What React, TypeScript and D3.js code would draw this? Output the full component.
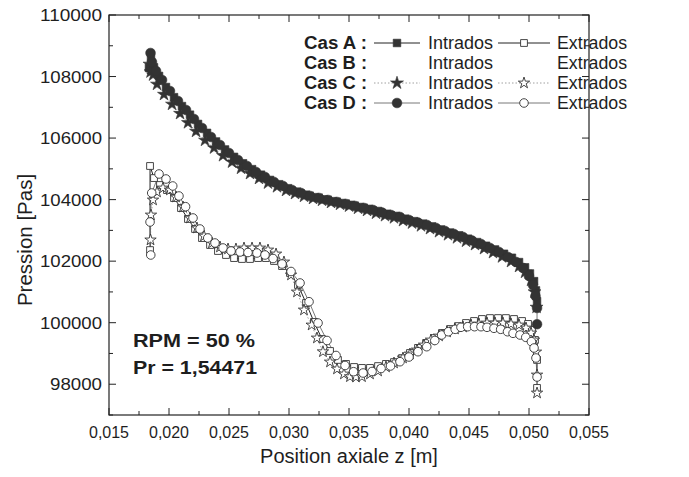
import React from 'react';
import * as d3 from 'd3';

const W = 689, H = 477;
const FONT = '"Liberation Sans", Arial, Helvetica, sans-serif';

const xTicks = [0.015, 0.02, 0.025, 0.03, 0.035, 0.04, 0.045, 0.05, 0.055];
const yTicks = [98000, 100000, 102000, 104000, 106000, 108000, 110000];

// Cas A - Intrados (filled squares)
const intraA_x = [0.01833,0.01850,0.01875,0.01917,0.01975,0.02042,0.02108,0.02175,0.02242,0.02317,0.02392,0.02467,0.02542,0.02617,0.02692,0.02767,0.02842,0.02917,0.02992,0.03067,0.03142,0.03217,0.03292,0.03367,0.03442,0.03517,0.03592,0.03667,0.03742,0.03817,0.03892,0.03967,0.04042,0.04117,0.04192,0.04267,0.04342,0.04417,0.04492,0.04567,0.04642,0.04717,0.04792,0.04858,0.04917,0.04967,0.05008,0.05042,0.05058,0.05067];
const intraA_p = [108280,108600,108300,108020,107660,107330,107040,106760,106460,106170,105890,105630,105390,105180,104990,104810,104640,104500,104370,104260,104160,104080,104010,103950,103890,103830,103760,103700,103630,103540,103470,103380,103300,103220,103130,103030,102930,102840,102730,102620,102500,102380,102240,102110,101970,101800,101600,101350,101050,100700];

// Cas A - Extrados (open squares)
const extraA_x = [0.01842,0.01842,0.01875,0.01925,0.01983,0.02042,0.02100,0.02158,0.02217,0.02275,0.02342,0.02408,0.02475,0.02542,0.02608,0.02675,0.02742,0.02808,0.02875,0.02942,0.03008,0.03075,0.03142,0.03208,0.03275,0.03342,0.03408,0.03475,0.03542,0.03608,0.03675,0.03742,0.03808,0.03875,0.03942,0.04008,0.04075,0.04142,0.04208,0.04275,0.04342,0.04408,0.04475,0.04542,0.04608,0.04675,0.04742,0.04808,0.04875,0.04942,0.04992,0.05025,0.05050,0.05067,0.05067];
const extraA_p = [102360,105093,104700,104475,104310,104050,103725,103370,103045,102750,102525,102330,102200,102100,102070,102070,102100,102100,102005,101840,101615,101225,100640,100025,99470,99080,98790,98660,98560,98530,98530,98590,98660,98720,98850,99015,99180,99340,99500,99665,99795,99890,99990,100055,100120,100150,100150,100150,100120,100055,99960,99765,99440,98790,97880];

// Cas C - Intrados (filled stars)
const intraC_x = [0.01838,0.01846,0.01867,0.01900,0.01958,0.02025,0.02092,0.02158,0.02225,0.02300,0.02375,0.02450,0.02525,0.02600,0.02675,0.02750,0.02825,0.02900,0.02975,0.03050,0.03125,0.03200,0.03275,0.03350,0.03425,0.03500,0.03575,0.03650,0.03725,0.03800,0.03875,0.03950,0.04025,0.04100,0.04175,0.04250,0.04325,0.04400,0.04475,0.04550,0.04625,0.04700,0.04775,0.04850,0.04917,0.04967,0.05017,0.05046,0.05063];
const intraC_p = [108400,108150,108050,107750,107420,107100,106800,106500,106220,105930,105680,105430,105220,105020,104850,104690,104540,104420,104300,104200,104110,104040,103980,103910,103850,103790,103720,103650,103560,103480,103410,103320,103240,103150,103060,102960,102860,102760,102650,102540,102410,102280,102140,101990,101830,101640,101380,101000,100500];

// Cas C - Extrados (open stars)
const extraC_x = [0.01846,0.01850,0.01867,0.01900,0.01950,0.02008,0.02058,0.02117,0.02175,0.02233,0.02292,0.02358,0.02425,0.02492,0.02558,0.02625,0.02692,0.02758,0.02825,0.02892,0.02958,0.03017,0.03067,0.03125,0.03189,0.03233,0.03283,0.03342,0.03400,0.03458,0.03508,0.03558,0.03608,0.03675,0.03742,0.03808,0.03875,0.03950,0.04008,0.04067,0.04125,0.04183,0.04250,0.04317,0.04383,0.04450,0.04517,0.04583,0.04650,0.04717,0.04783,0.04850,0.04917,0.04975,0.05017,0.05042,0.05058,0.05067,0.05067];
const extraC_p = [102690,103500,103988,104248,104378,104313,104085,103760,103403,103078,102818,102590,102460,102395,102395,102428,102428,102428,102363,102233,101973,101550,100998,100413,99925,99503,99057,98723,98495,98333,98245,98235,98245,98333,98430,98560,98690,98853,98983,99113,99275,99438,99568,99698,99795,99860,99925,99958,99990,99990,99990,99958,99925,99828,99665,99438,99048,98300,97715];

// Cas D - Intrados (filled circles)
const intraD_x = [0.01846,0.01858,0.01892,0.01942,0.02008,0.02075,0.02142,0.02208,0.02275,0.02350,0.02425,0.02500,0.02575,0.02650,0.02725,0.02800,0.02875,0.02950,0.03025,0.03100,0.03175,0.03250,0.03325,0.03400,0.03475,0.03550,0.03625,0.03700,0.03775,0.03850,0.03925,0.04000,0.04075,0.04150,0.04225,0.04300,0.04375,0.04450,0.04525,0.04600,0.04675,0.04750,0.04825,0.04892,0.04950,0.05000,0.05033,0.05054,0.05067,0.05067];
const intraD_p = [108765,108473,108180,107888,107530,107205,106913,106620,106328,106035,105775,105515,105288,105093,104898,104735,104573,104443,104313,104215,104118,104053,103988,103923,103858,103793,103728,103663,103581,103500,103435,103338,103256,103175,103078,102980,102883,102785,102671,102558,102428,102298,102135,101973,101778,101518,101225,100868,100478,99950];

// Cas D - Extrados (open circles)
const extraD_x = [0.01848,0.01842,0.01856,0.01917,0.01975,0.02031,0.02083,0.02138,0.02200,0.02258,0.02323,0.02383,0.02450,0.02517,0.02592,0.02658,0.02733,0.02800,0.02867,0.02942,0.03017,0.03092,0.03167,0.03242,0.03317,0.03392,0.03467,0.03538,0.03617,0.03692,0.03767,0.03846,0.03925,0.04000,0.04075,0.04148,0.04215,0.04272,0.04328,0.04385,0.04433,0.04489,0.04546,0.04600,0.04650,0.04708,0.04764,0.04821,0.04867,0.04925,0.04973,0.05020,0.05042,0.05058,0.05067];
const extraD_p = [102200,103273,104215,104833,104670,104443,104118,103770,103403,103045,102753,102590,102428,102330,102298,102281,102265,102200,102086,101908,101664,101290,100682,99990,99421,98934,98609,98407,98365,98414,98511,98593,98732,98885,99057,99220,99421,99600,99707,99785,99850,99870,99870,99870,99850,99818,99785,99707,99655,99600,99525,99383,99178,98853,98235];

const legendCases = ['Cas A :', 'Cas B :', 'Cas C :', 'Cas D :'];
const legendLabels = ['Intrados', 'Extrados'];
const annotations = ['RPM = 50 %', 'Pr = 1,54471'];

const DARK = '#333';
const TXT = '#1e1e1e';

type Style = { sym: d3.SymbolType; size: number; openSize: number; line: string; width: number; dash?: string };
const styles: Record<string, Style> = {
  A: { sym: d3.symbolSquare, size: 58, openSize: 46, line: '#222', width: 1 },
  C: { sym: d3.symbolStar, size: 52, openSize: 40, line: '#888', width: 0.8, dash: '1.5,2' },
  D: { sym: d3.symbolCircle, size: 74, openSize: 58, line: '#555', width: 0.8 },
};

export default function App() {
  const x = d3.scaleLinear().domain([0.015, 0.055]).range([109, 589]);
  const y = d3.scaleLinear().domain([97000, 110000]).range([415, 15]);
  const L = 109, R = 589, T = 15, B = 415;

  const fmtX = (v: number) => d3.format('.3f')(v).replace('.', ',');
  const minorX = d3.range(0, 8).map(i => 0.0175 + i * 0.005);
  const minorY = d3.range(0, 7).map(i => 97000 + i * 2000);

  const series = [
    { key: 'A', xs: extraA_x, ps: extraA_p, filled: false },
    { key: 'C', xs: extraC_x, ps: extraC_p, filled: false },
    { key: 'D', xs: extraD_x, ps: extraD_p, filled: false },
    { key: 'A', xs: intraA_x, ps: intraA_p, filled: true },
    { key: 'C', xs: intraC_x, ps: intraC_p, filled: true },
    { key: 'D', xs: intraD_x, ps: intraD_p, filled: true },
  ];

  const line = d3.line<[number, number]>().x(d => x(d[0])).y(d => y(d[1]));

  const marker = (key: string, filled: boolean, cx: number, cy: number, k: string) => {
    const st = styles[key];
    const path = d3.symbol().type(st.sym).size(filled ? st.size : st.openSize)()!;
    return (
      <path key={k} d={path} transform={`translate(${cx},${cy})`}
        fill={filled ? DARK : '#fff'} stroke={DARK} strokeWidth={filled ? 0.6 : 0.9} />
    );
  };

  const legendRowsY = [49, 69, 89, 109];
  const legendKeys = ['A', 'B', 'C', 'D'];

  return (
    <svg width={W} height={H} style={{ position: 'absolute', left: 0, top: 0, background: '#fff' }}
      fontFamily={FONT}>
      <rect x={0} y={0} width={W} height={H} fill="#fff" />
      {series.map((s, i) => {
        const st = styles[s.key];
        const pts = s.xs.map((v, j) => [v, s.ps[j]] as [number, number]);
        return <path key={'l' + i} d={line(pts)!} fill="none" stroke={st.line} strokeWidth={st.width}
          strokeDasharray={st.dash} />;
      })}
      {series.map((s, i) => (
        <g key={'m' + i}>
          {s.xs.map((v, j) => marker(s.key, s.filled, x(v), y(s.ps[j]), `${i}-${j}`))}
        </g>
      ))}
      <rect x={L} y={T} width={R - L} height={B - T} fill="none" stroke="#222" strokeWidth={1.2} />
      {xTicks.map(t => (
        <g key={'xt' + t}>
          <line x1={x(t)} x2={x(t)} y1={B} y2={B - 7} stroke="#222" strokeWidth={1} />
          <line x1={x(t)} x2={x(t)} y1={T} y2={T + 7} stroke="#222" strokeWidth={1} />
          <text x={x(t)} y={B + 23} textAnchor="middle" fontSize={16} fill={TXT}
            textLength={40} lengthAdjust="spacingAndGlyphs">{fmtX(t)}</text>
        </g>
      ))}
      {minorX.map(t => (
        <g key={'xm' + t}>
          <line x1={x(t)} x2={x(t)} y1={B} y2={B - 4} stroke="#222" strokeWidth={1} />
          <line x1={x(t)} x2={x(t)} y1={T} y2={T + 4} stroke="#222" strokeWidth={1} />
        </g>
      ))}
      {yTicks.map(t => (
        <g key={'yt' + t}>
          <line x1={L} x2={L + 7} y1={y(t)} y2={y(t)} stroke="#222" strokeWidth={1} />
          <line x1={R} x2={R - 7} y1={y(t)} y2={y(t)} stroke="#222" strokeWidth={1} />
          <text x={102} y={y(t) + 6} textAnchor="end" fontSize={17} fill={TXT}
            textLength={String(t).length === 6 ? 62 : 52} lengthAdjust="spacingAndGlyphs">{String(t)}</text>
        </g>
      ))}
      {minorY.map(t => (
        <g key={'ym' + t}>
          <line x1={L} x2={L + 4} y1={y(t)} y2={y(t)} stroke="#222" strokeWidth={1} />
          <line x1={R} x2={R - 4} y1={y(t)} y2={y(t)} stroke="#222" strokeWidth={1} />
        </g>
      ))}
      <text x={(L + R) / 2} y={463} textAnchor="middle" fontSize={20} fill={TXT}>Position axiale z [m]</text>
      <text transform={`translate(32,${240}) rotate(-90)`} textAnchor="middle" fontSize={20.5} fill={TXT}>Pression [Pas]</text>
      <text x={133} y={347} fontSize={19} fontWeight="bold" fill={TXT}
        textLength={122} lengthAdjust="spacingAndGlyphs">{annotations[0]}</text>
      <text x={133} y={374} fontSize={19} fontWeight="bold" fill={TXT}
        textLength={124} lengthAdjust="spacingAndGlyphs">{annotations[1]}</text>
      {legendKeys.map((k, i) => {
        const yy = legendRowsY[i];
        const st = styles[k];
        const cy = yy - 6;
        return (
          <g key={'lg' + k}>
            <text x={304} y={yy} fontSize={17.5} fontWeight="bold" fill={TXT}
              textLength={63} lengthAdjust="spacingAndGlyphs">{legendCases[i]}</text>
            {st && <line x1={374} x2={420} y1={cy} y2={cy} stroke={st.line} strokeWidth={st.width} strokeDasharray={st.dash} />}
            {st && marker(k, true, 397, cy, 'lgm1' + k)}
            <text x={428} y={yy} fontSize={17.5} fill={TXT}
              textLength={65} lengthAdjust="spacingAndGlyphs">{legendLabels[0]}</text>
            {st && <line x1={498} x2={550} y1={cy} y2={cy} stroke={st.line} strokeWidth={st.width} strokeDasharray={st.dash} />}
            {st && marker(k, false, 524, cy, 'lgm2' + k)}
            <text x={557} y={yy} fontSize={17.5} fill={TXT}
              textLength={70} lengthAdjust="spacingAndGlyphs">{legendLabels[1]}</text>
          </g>
        );
      })}
    </svg>
  );
}
